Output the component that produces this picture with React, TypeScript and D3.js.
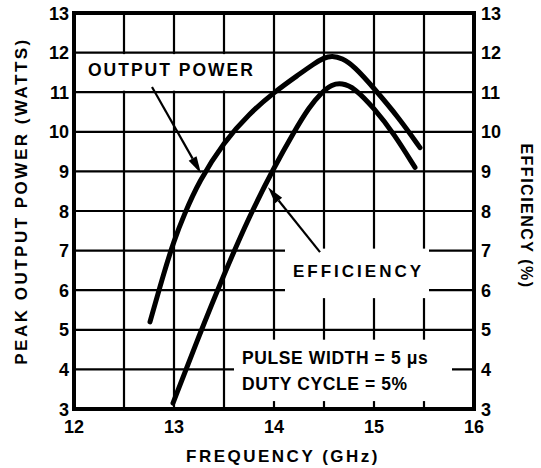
import React from "react";
import * as d3 from "d3";

const freqTicks = [12, 13, 14, 15, 16];
const freqGrid = [12.5, 13, 13.5, 14, 14.5, 15, 15.5];
const valueTicks = [3, 4, 5, 6, 7, 8, 9, 10, 11, 12, 13];
const valueGrid = [4, 5, 6, 7, 8, 9, 10, 11, 12];

const powerFreq = [12.76, 12.9, 13.0, 13.1, 13.25, 13.5, 13.75, 14.0, 14.25, 14.4, 14.5, 14.58, 14.68, 14.8, 15.0, 15.25, 15.46];
const powerWatts = [5.2, 6.45, 7.25, 7.9, 8.75, 9.75, 10.45, 11.0, 11.45, 11.72, 11.87, 11.92, 11.86, 11.66, 11.1, 10.35, 9.6];

const effFreq = [12.99, 13.25, 13.5, 13.75, 14.0, 14.2, 14.35, 14.47, 14.58, 14.68, 14.8, 15.0, 15.2, 15.41];
const effPct = [3.15, 4.85, 6.4, 7.85, 9.1, 10.0, 10.62, 10.98, 11.2, 11.23, 11.12, 10.6, 9.95, 9.1];

const W = 541;
const H = 468;
const FONT = "'Liberation Sans', Arial, Helvetica, sans-serif";

export default function App() {
  const x = d3.scaleLinear().domain([12, 16]).range([74, 474]);
  const y = d3.scaleLinear().domain([3, 13]).range([409, 13]);

  const line = d3
    .line<[number, number]>()
    .x((d) => x(d[0]))
    .y((d) => y(d[1]))
    .curve(d3.curveBasis);

  const powerPts: [number, number][] = powerFreq.map((f, i) => [f, powerWatts[i]]);
  const effPts: [number, number][] = effFreq.map((f, i) => [f, effPct[i]]);

  const arrow = (x1: number, y1: number, x2: number, y2: number, key: string) => {
    const px1 = x(x1), py1 = y(y1), px2 = x(x2), py2 = y(y2);
    const ang = Math.atan2(py2 - py1, px2 - px1);
    const L = 17, hw = 4.5;
    const bx = px2 - L * Math.cos(ang), by = py2 - L * Math.sin(ang);
    const nx = -Math.sin(ang), ny = Math.cos(ang);
    const pts = `${px2},${py2} ${bx + nx * hw},${by + ny * hw} ${bx - nx * hw},${by - ny * hw}`;
    return (
      <g key={key}>
        <line x1={px1} y1={py1} x2={bx} y2={by} stroke="#000" strokeWidth={2.2} />
        <polygon points={pts} fill="#000" />
      </g>
    );
  };

  return (
    <svg
      width={W}
      height={H}
      style={{ position: "absolute", left: 0, top: 0, background: "#fff" }}
      fontFamily={FONT}
      fontWeight="bold"
    >
      <rect x={0} y={0} width={W} height={H} fill="#fff" />
      {/* grid */}
      {freqGrid.map((f) => (
        <line key={"gx" + f} x1={x(f)} x2={x(f)} y1={y(13)} y2={y(3)} stroke="#000" strokeWidth={2.2} />
      ))}
      {valueGrid.map((v) => (
        <line key={"gy" + v} x1={x(12)} x2={x(16)} y1={y(v)} y2={y(v)} stroke="#000" strokeWidth={2.2} />
      ))}
      {/* label background boxes */}
      <rect x={x(12)} y={y(12) + 1.5} width={x(13.96) - x(12)} height={y(11) - y(12) - 3} fill="#fff" />
      <rect x={x(14.11)} y={y(7.05)} width={x(15.55) - x(14.11)} height={y(5.8) - y(7.05)} fill="#fff" />
      <rect x={x(13.6)} y={y(4.75)} width={x(15.78) - x(13.6)} height={y(3.2) - y(4.75)} fill="#fff" />

      {/* curves */}
      <path d={line(powerPts) || ""} fill="none" stroke="#000" strokeWidth={5} strokeLinecap="round" strokeLinejoin="round" />
      <path d={line(effPts) || ""} fill="none" stroke="#000" strokeWidth={5} strokeLinecap="round" strokeLinejoin="round" />

      {/* frame */}
      <rect x={x(12)} y={y(13)} width={x(16) - x(12)} height={y(3) - y(13)} fill="none" stroke="#000" strokeWidth={4} />

      {/* arrows */}
      {arrow(12.78, 11.13, 13.27, 8.95, "a1")}
      {arrow(14.46, 6.96, 13.94, 8.6, "a2")}

      {/* tick labels */}
      {valueTicks.map((v) => (
        <text key={"l" + v} x={69} y={y(v) + 6.5} textAnchor="end" fontSize={18}>
          {v}
        </text>
      ))}
      {valueTicks.map((v) => (
        <text key={"r" + v} x={481} y={y(v) + 6.5} textAnchor="start" fontSize={18}>
          {v}
        </text>
      ))}
      {freqTicks.map((f) => (
        <text key={"b" + f} x={x(f)} y={433} textAnchor="middle" fontSize={18}>
          {f}
        </text>
      ))}

      {/* annotations */}
      <text x={x(12.14)} y={y(11.41)} fontSize={17.5} letterSpacing={2}>
        OUTPUT POWER
      </text>
      <text x={x(14.19)} y={y(6.33)} fontSize={17} letterSpacing={3}>
        EFFICIENCY
      </text>
      <text x={x(13.68)} y={y(4.14)} fontSize={17.5} letterSpacing={0.6}>
        PULSE WIDTH = 5 μs
      </text>
      <text x={x(13.68)} y={y(3.48)} fontSize={17.5} letterSpacing={0.6}>
        DUTY CYCLE = 5%
      </text>

      {/* axis titles */}
      <text x={283} y={462} textAnchor="middle" fontSize={17} letterSpacing={2.5}>
        FREQUENCY (GHz)
      </text>
      <text
        transform={`translate(27,${201}) rotate(-90)`}
        textAnchor="middle"
        fontSize={17}
        letterSpacing={2.5}
      >
        PEAK OUTPUT POWER (WATTS)
      </text>
      <text
        transform={`translate(521,${216}) rotate(90)`}
        textAnchor="middle"
        fontSize={16}
        letterSpacing={1.5}
      >
        EFFICIENCY (%)
      </text>
    </svg>
  );
}
